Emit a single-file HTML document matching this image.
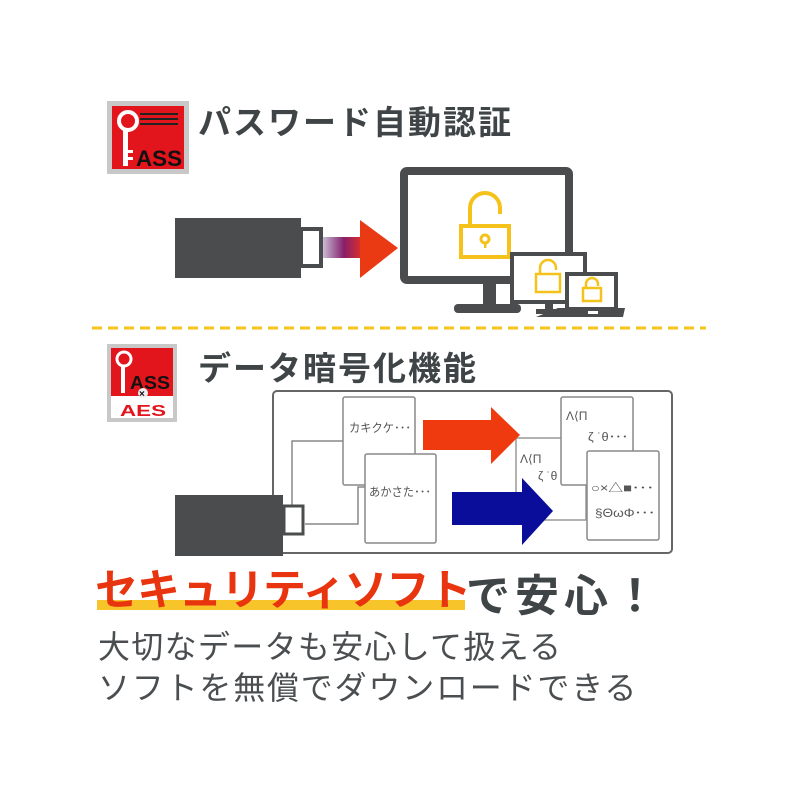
<!DOCTYPE html>
<html><head><meta charset="utf-8"><style>
body{margin:0;width:800px;height:800px;background:#fff;position:relative;overflow:hidden;font-family:"Liberation Sans","Noto Sans CJK JP",sans-serif}
.a{position:absolute}
.t{position:absolute;white-space:nowrap;color:#3f4446;font-weight:bold}
</style></head><body>
<svg class="a" style="left:0;top:0" width="800" height="800" viewBox="0 0 800 800">
<rect x="107" y="101" width="82" height="73" fill="#c8c8c8"/>
<rect x="112" y="106" width="72" height="63" fill="#e2141c"/>
<circle cx="128" cy="121" r="9" fill="none" stroke="#fff" stroke-width="4"/>
<rect x="123" y="128" width="5" height="38" fill="#fff"/>
<rect x="128" y="150" width="5" height="3" fill="#fff"/><rect x="128" y="157" width="5" height="3" fill="#fff"/>
<text x="136" y="166" font-family="Liberation Sans" font-weight="bold" font-size="22" fill="#111" textLength="46" lengthAdjust="spacingAndGlyphs">ASS</text>
<rect x="140" y="113" width="38" height="2" fill="#222"/><rect x="140" y="118" width="38" height="2" fill="#222"/><rect x="140" y="123" width="38" height="2" fill="#222"/>
<rect x="175" y="218" width="126" height="60" fill="#4a4c4e"/>
<rect x="301" y="229" width="20" height="37" fill="#fff" stroke="#4a4c4e" stroke-width="4"/>
<defs><linearGradient id="g" x1="0" x2="1"><stop offset="0" stop-color="#5a1f6e" stop-opacity="0.3"/><stop offset="0.5" stop-color="#8a1e6a"/><stop offset="1" stop-color="#e8321e"/></linearGradient></defs>
<rect x="323" y="237" width="42" height="21" fill="url(#g)"/>
<polygon points="360,220 398,248 360,278" fill="#ea3a14"/>
<rect x="404" y="171" width="165" height="109" rx="3" fill="#fff" stroke="#4a4c4e" stroke-width="8"/>
<rect x="483" y="283" width="13" height="22" fill="#4a4c4e"/>
<rect x="454" y="304" width="67" height="9" rx="4" fill="#4a4c4e"/>
<g fill="none" stroke="#f5c21b" stroke-width="4">
<path d="M470,226 V208 a15,15 0 0 1 30,0 V214"/>
<rect x="461" y="226" width="48" height="31"/>
</g>
<circle cx="485" cy="239" r="4" fill="none" stroke="#f5c21b" stroke-width="3"/><rect x="484" y="242" width="2.5" height="6" fill="#f5c21b"/>
<rect x="512" y="254" width="73" height="48" fill="#fff" stroke="#4a4c4e" stroke-width="4"/>
<rect x="545" y="302" width="8" height="9" fill="#4a4c4e"/><rect x="536" y="309" width="26" height="5" fill="#4a4c4e"/>
<g fill="none" stroke="#f5c21b" stroke-width="2.5">
<path d="M540,274 V268 a8,8 0 0 1 16,0 V270"/><rect x="536" y="274" width="24" height="18"/>
</g>
<rect x="567" y="274" width="49" height="35" fill="#fff" stroke="#4a4c4e" stroke-width="4"/>
<polygon points="558,308 625,308 623,317 536,317" fill="#4a4c4e"/>
<rect x="588" y="311" width="10" height="3" fill="#fff"/>
<g fill="none" stroke="#f5c21b" stroke-width="2.5">
<path d="M586,288 V284 a6,6 0 0 1 12,0 V286"/><rect x="583" y="288" width="18" height="13"/>
</g>
<line x1="92" y1="328" x2="706" y2="328" stroke="#f5c518" stroke-width="3" stroke-dasharray="10,6"/>
<rect x="107" y="344" width="70" height="78" fill="#c8c8c8"/>
<rect x="111" y="348" width="62" height="48" fill="#e2141c"/>
<rect x="111" y="396" width="62" height="22" fill="#fff"/>
<circle cx="124" cy="359" r="7" fill="none" stroke="#fff" stroke-width="3"/>
<rect x="121" y="365" width="4" height="28" fill="#fff"/>
<text x="130" y="389" font-family="Liberation Sans" font-weight="bold" font-size="18" fill="#111" textLength="40" lengthAdjust="spacingAndGlyphs">ASS</text>
<circle cx="143" cy="393" r="5" fill="#eee"/><text x="139" y="397" font-size="10" font-weight="bold" fill="#111">×</text>
<text x="120" y="416" font-family="Liberation Sans" font-weight="bold" font-size="16" fill="#e2141c" textLength="46" lengthAdjust="spacingAndGlyphs">AES</text>
<rect x="273" y="391" width="399" height="162" rx="4" fill="#fff" stroke="#666" stroke-width="2"/>
<g fill="none" stroke="#888" stroke-width="1.5">
<polyline points="292,505 292,441 344,441"/>
<polyline points="305,524 358,524 358,487 365,487"/>
<polyline points="555,518 575,518 575,505"/>
</g>
<rect x="516" y="438" width="70" height="82" fill="#fff" stroke="#999" stroke-width="1.5"/>
<rect x="343" y="397" width="72" height="88" rx="2" fill="#fff" stroke="#888" stroke-width="1.5"/>
<rect x="365" y="454" width="71" height="89" rx="2" fill="#fff" stroke="#888" stroke-width="1.5"/>
<rect x="561" y="397" width="72" height="88" rx="2" fill="#fff" stroke="#888" stroke-width="1.5"/>
<rect x="587" y="451" width="72" height="89" rx="2" fill="#fff" stroke="#888" stroke-width="1.5"/>
<g font-family="Liberation Sans,Noto Sans CJK JP,sans-serif" font-size="12" fill="#555">
<text x="349" y="432" textLength="62" lengthAdjust="spacingAndGlyphs">カキクケ･･･</text>
<text x="369" y="496" textLength="62" lengthAdjust="spacingAndGlyphs">あかさた･･･</text>
<text x="566" y="420">Λ⟨Π</text><text x="588" y="441" textLength="40" lengthAdjust="spacingAndGlyphs">ζ ˙θ･･･</text>
<text x="520" y="463">Λ⟨Π</text><text x="538" y="480">ζ ˙θ</text>
<text x="591" y="492" textLength="63" lengthAdjust="spacingAndGlyphs">○×△■･･･</text>
<text x="595" y="517" textLength="60" lengthAdjust="spacingAndGlyphs">§ΘωΦ･･･</text>
</g>
<polygon points="423,420 491,420 491,407 520,435 491,464 491,450 423,450" fill="#ee3a0e"/>
<polygon points="452,492 522,492 522,478 553,511 522,545 522,525 452,525" fill="#0a0d9a"/>
<rect x="175" y="495" width="108" height="61" fill="#4a4c4e"/>
<rect x="284" y="506" width="19" height="28" fill="#fff" stroke="#4a4c4e" stroke-width="3"/>
<rect x="97" y="600" width="368" height="10" fill="#f7c52a"/>
</svg>
<div class="t" style="left:198px;top:96px;font-size:33px;letter-spacing:2px;font-weight:600">パスワード自動認証</div>
<div class="t" style="left:198px;top:342px;font-size:33px;letter-spacing:2px;font-weight:600">データ暗号化機能</div>
<div class="t" style="left:95px;top:556px;font-size:43px;color:#e9350f;letter-spacing:-1px">セキュリティソフト</div>
<div class="t" style="left:466px;top:560px;font-size:44px;letter-spacing:5px">で安心！</div>
<div class="t" style="left:98px;top:622px;font-size:32px;font-weight:normal;color:#4a4e50;letter-spacing:1.3px">大切なデータも安心して扱える</div>
<div class="t" style="left:98px;top:663px;font-size:32px;font-weight:normal;color:#4a4e50;letter-spacing:1.8px">ソフトを無償でダウンロードできる</div>
</body></html>
